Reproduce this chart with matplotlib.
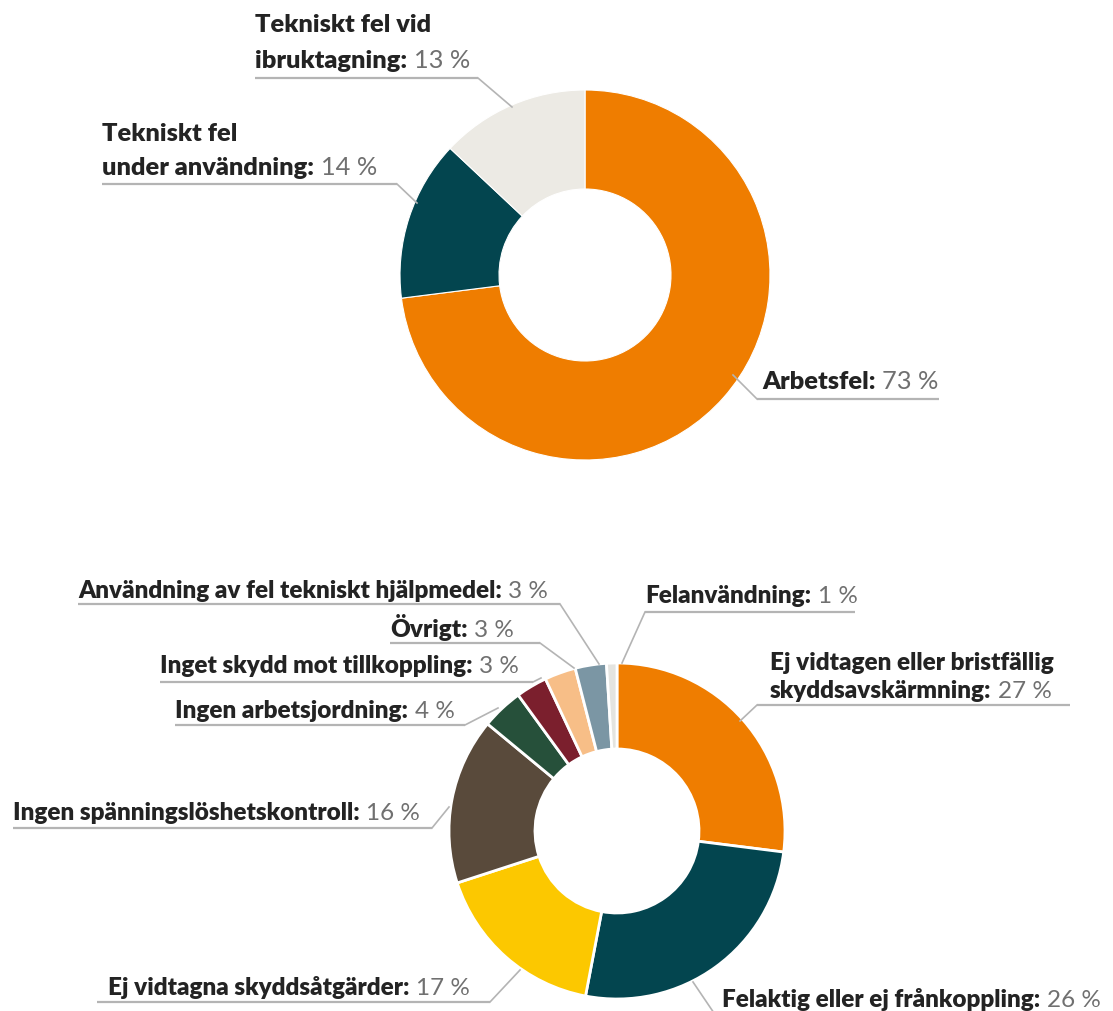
import matplotlib
matplotlib.use("Agg")
import matplotlib.pyplot as plt

# ---------------- data ----------------
top_labels = ["Arbetsfel", "Tekniskt fel\nunder användning", "Tekniskt fel vid\nibruktagning"]
top_values = [73, 14, 13]
top_colors = ["#EF7D00", "#03454F", "#ECEAE4"]

bot_labels = ["Ej vidtagen eller bristfällig\nskyddsavskärmning",
              "Felaktig eller ej frånkoppling",
              "Ej vidtagna skyddsåtgärder",
              "Ingen spänningslöshetskontroll",
              "Ingen arbetsjordning",
              "Inget skydd mot tillkoppling",
              "Övrigt",
              "Användning av fel tekniskt hjälpmedel",
              "Felanvändning"]
bot_values = [27, 26, 17, 16, 4, 3, 3, 3, 1]
bot_colors = ["#EF7D00", "#03454F", "#FCC800", "#594A3B", "#26503A",
              "#7B1F2D", "#F7BE87", "#7B96A4", "#E4E4E0"]

# ---------------- figure ----------------
W, H = 1113, 1011
fig = plt.figure(figsize=(W / 100, H / 100), dpi=100)
ax = fig.add_axes([0, 0, 1, 1])

FONT = ["Lato", "DejaVu Sans"]
BOLD_C = "#232323"
VAL_C = "#707070"
LINE_C = "#b4b4b4"


def Y(y):
    return H - y


ax.pie(top_values, colors=top_colors, startangle=90, counterclock=False,
       radius=185, center=(585, Y(275)),
       wedgeprops=dict(width=99, edgecolor="white", linewidth=0.8))
ax.pie(bot_values, colors=bot_colors, startangle=90, counterclock=False,
       radius=168, center=(617, Y(831)),
       wedgeprops=dict(width=86, edgecolor="white", linewidth=2.0))

ax.set_xlim(0, W)
ax.set_ylim(0, H)
ax.set_aspect("equal")
ax.axis("off")

renderer = fig.canvas.get_renderer()


def label(text, value, x, baseline, size, spacing, underline, leader):
    lines = text.split("\n")
    for i, ln in enumerate(lines):
        yb = baseline + i * spacing
        last = i == len(lines) - 1
        t = ax.text(x, Y(yb), ln + (":" if last else ""), fontsize=size,
                    fontweight="heavy", color=BOLD_C,
                    va="baseline", ha="left", family=FONT)
        if last:
            w = t.get_window_extent(renderer).width
            gap = 0.27 * size * 100 / 72
            ax.text(x + w + gap, Y(yb), f"{value} %", fontsize=size, color=VAL_C,
                    va="baseline", ha="left", family=FONT)
    ux0, ux1, uy = underline
    ax.plot([ux0, ux1], [Y(uy), Y(uy)], color=LINE_C, lw=1.6, solid_capstyle="butt")
    (lx0, ly0), (lx1, ly1) = leader
    ax.plot([lx0, lx1], [Y(ly0), Y(ly1)], color=LINE_C, lw=1.2)


TS = 18.3   # top label size
BS = 17.5   # bottom label size

# top chart labels
label(top_labels[0], top_values[0], 762, 389, TS, 35,
      (757, 939, 399), ((757, 399), (733, 375)))
label(top_labels[1], top_values[1], 102, 141, TS, 34,
      (102, 397, 184), ((397, 184), (417, 203)))
label(top_labels[2], top_values[2], 255, 32, TS, 36,
      (255, 478, 78), ((478, 78), (512, 107)))

# bottom chart labels
label(bot_labels[0], bot_values[0], 770, 670, BS, 28,
      (757, 1070, 705), ((757, 705), (740, 721)))
label(bot_labels[1], bot_values[1], 722, 1007, BS, 28,
      (722, 1107, 1016), ((693, 982), (716, 1016)))
label(bot_labels[2], bot_values[2], 108, 995, BS, 28,
      (97, 490, 1002), ((490, 1002), (520, 970)))
label(bot_labels[3], bot_values[3], 13, 820, BS, 28,
      (13, 432, 828), ((432, 828), (449, 807)))
label(bot_labels[4], bot_values[4], 175, 718, BS, 28,
      (175, 465, 725), ((465, 725), (498, 708)))
label(bot_labels[5], bot_values[5], 160, 673, BS, 28,
      (160, 533, 682), ((533, 682), (541, 678)))
label(bot_labels[6], bot_values[6], 390, 637, BS, 28,
      (390, 540, 643), ((540, 643), (574, 668)))
label(bot_labels[7], bot_values[7], 78, 598, BS, 28,
      (78, 560, 604), ((560, 604), (599, 664)))
label(bot_labels[8], bot_values[8], 645, 603, BS, 28,
      (645, 855, 612), ((645, 612), (622, 663)))

fig.savefig("out.png", dpi=100, facecolor="white")
